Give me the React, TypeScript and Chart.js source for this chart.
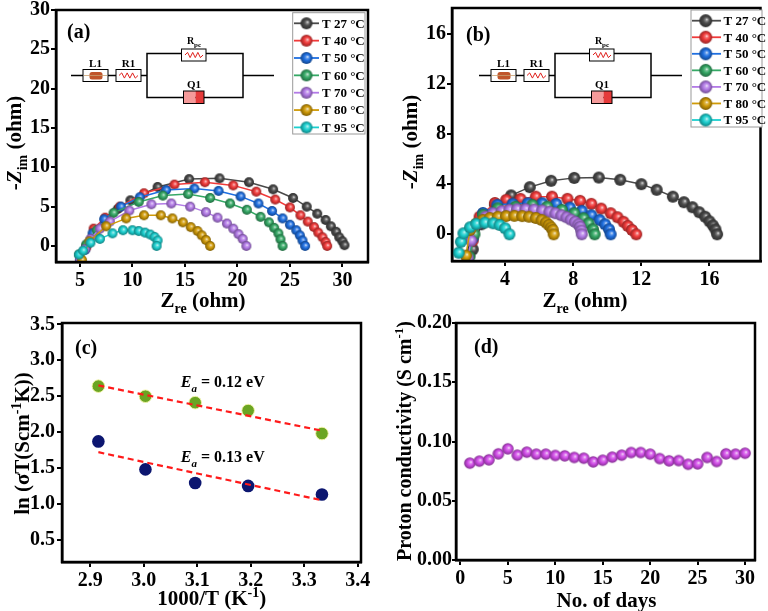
import React, { useEffect, useRef } from "react";
import { Chart, registerables } from "chart.js";
Chart.register(...registerables);

const SERIF = '"Liberation Serif", "Times New Roman", Times, serif';

// ---------- shared legend data ----------
const TEMP_LABELS = ["T 27 °C", "T 40 °C", "T 50 °C", "T 60 °C", "T 70 °C", "T 80 °C", "T 95 °C"];
const TEMP_COLORS = ["#4a4a4a", "#f03a3a", "#1f6fe0", "#35a865", "#b27ae6", "#cf9a08", "#1ccfcf"];

// ---------- panel (a) : Nyquist, Zre / -Zim (ohm) ----------
const A_T27 = [[5.0, -1.9], [5.6, 0.0], [6.5, 2.0], [7.5, 3.3], [8.6, 4.7], [9.8, 5.8], [12.4, 7.5], [15.4, 8.5], [18.3, 8.6], [21.1, 8.1], [23.4, 7.2], [25.3, 6.1], [26.6, 5.0], [27.6, 4.1], [28.4, 3.3], [28.9, 2.5], [29.4, 1.8], [29.7, 1.1], [30.0, 0.6], [30.2, 0.1]];
const A_T40 = [[5.1, -1.9], [5.6, -0.2], [6.3, 2.2], [7.4, 3.6], [8.8, 5.0], [11.1, 6.7], [14.0, 7.8], [16.9, 8.1], [19.6, 7.7], [21.8, 6.9], [23.6, 5.9], [25.0, 4.9], [26.0, 3.9], [26.7, 3.1], [27.3, 2.4], [27.7, 1.7], [28.1, 1.1], [28.4, 0.5], [28.55, 0.0]];
const A_T50 = [[5.0, -2.0], [5.5, -0.5], [6.2, 1.6], [7.3, 3.4], [8.9, 5.0], [10.7, 6.2], [13.2, 7.1], [15.9, 7.3], [18.2, 7.0], [20.3, 6.3], [22.0, 5.4], [23.3, 4.45], [24.3, 3.5], [25.0, 2.7], [25.6, 2.0], [25.95, 1.35], [26.2, 0.7], [26.45, 0.0]];
const A_T60 = [[4.9, -1.1], [5.6, 0.2], [6.6, 2.0], [8.2, 4.2], [10.6, 5.6], [12.9, 6.4], [15.3, 6.6], [17.4, 6.1], [19.3, 5.4], [20.9, 4.6], [22.2, 3.7], [23.0, 3.0], [23.5, 2.3], [23.9, 1.6], [24.1, 0.85], [24.3, 0.0]];
const A_T70 = [[5.0, -1.7], [5.5, -0.4], [6.0, 0.9], [6.9, 2.2], [7.85, 3.1], [9.7, 4.5], [11.8, 5.3], [13.7, 5.4], [15.5, 5.0], [17.0, 4.3], [18.1, 3.6], [19.0, 2.85], [19.6, 2.2], [20.1, 1.5], [20.5, 0.9], [20.85, 0.0]];
const A_T80 = [[5.2, -1.8], [5.9, 0.6], [7.5, 2.5], [9.4, 3.5], [11.1, 3.9], [12.7, 3.9], [13.8, 3.5], [14.8, 3.0], [15.55, 2.4], [16.2, 1.9], [16.6, 1.35], [17.0, 0.75], [17.4, 0.0]];
const A_T95 = [[4.9, -1.1], [5.3, -0.6], [6.0, 0.4], [6.9, 0.9], [8.1, 1.6], [9.1, 2.0], [10.0, 2.0], [10.6, 1.9], [11.2, 1.7], [11.7, 1.45], [12.1, 1.15], [12.4, 0.7], [12.3, 0.0]];
const A_SERIES = [A_T27, A_T40, A_T50, A_T60, A_T70, A_T80, A_T95];
const A_X_TICKS = [5, 10, 15, 20, 25, 30];
const A_Y_TICKS = [0, 5, 10, 15, 20, 25, 30];

// ---------- panel (b) ----------
const B_T27 = [[1.9, -1.7], [2.1, -1.2], [2.6, 0.8], [3.4, 2.35], [4.35, 3.1], [5.45, 3.76], [6.7, 4.27], [8.06, 4.5], [9.5, 4.53], [10.76, 4.35], [12.0, 4.0], [12.9, 3.55], [13.85, 3.0], [14.5, 2.56], [15.0, 2.16], [15.4, 1.76], [15.75, 1.4], [16.0, 1.04], [16.2, 0.72], [16.35, 0.4], [16.45, 0.0]];
const B_T40 = [[1.8, -1.8], [2.1, -0.5], [2.5, 1.4], [3.4, 2.5], [4.06, 2.75], [4.9, 2.83], [5.8, 3.0], [6.75, 3.0], [7.66, 2.83], [8.4, 2.67], [9.06, 2.43], [9.64, 2.05], [10.2, 1.68], [10.6, 1.36], [10.95, 1.0], [11.2, 0.67], [11.45, 0.35], [11.7, 0.0]];
const B_T50 = [[1.8, -1.9], [2.1, -0.3], [2.7, 1.7], [3.54, 2.35], [4.44, 2.43], [5.33, 2.48], [6.18, 2.48], [7.0, 2.43], [7.8, 2.13], [8.5, 1.87], [9.06, 1.52], [9.55, 1.15], [9.87, 0.8], [10.1, 0.4], [10.2, 0.0]];
const B_T60 = [[1.9, -1.8], [2.2, 0.0], [2.7, 1.55], [3.57, 2.08], [4.6, 2.2], [5.6, 2.35], [6.47, 2.2], [7.33, 1.95], [8.06, 1.68], [8.6, 1.28], [8.9, 0.88], [9.16, 0.4], [9.26, 0.0]];
const B_T70 = [[1.8, -1.9], [2.0, -0.5], [2.4, 0.88], [2.85, 1.4], [3.3, 1.68], [3.8, 1.85], [4.25, 1.95], [4.7, 2.0], [5.2, 2.0], [5.7, 1.97], [6.18, 1.9], [6.6, 1.8], [6.95, 1.68], [7.3, 1.52], [7.6, 1.36], [7.85, 1.18], [8.1, 1.0], [8.3, 0.8], [8.4, 0.6], [8.47, 0.3], [8.5, 0.0]];
const B_T80 = [[1.7, -1.7], [1.94, 0.35], [2.3, 0.85], [2.7, 1.15], [3.1, 1.3], [3.57, 1.4], [4.05, 1.45], [4.54, 1.47], [5.0, 1.45], [5.4, 1.4], [5.8, 1.3], [6.14, 1.15], [6.4, 0.95], [6.56, 0.75], [6.7, 0.55], [6.8, 0.35], [6.85, 0.0]];
const B_T95 = [[1.27, -1.47], [1.4, -0.6], [1.55, 0.08], [1.94, 0.56], [2.3, 0.83], [2.8, 0.93], [3.3, 0.88], [3.67, 0.75], [4.0, 0.48], [4.25, 0.0]];
const B_SERIES = [B_T27, B_T40, B_T50, B_T60, B_T70, B_T80, B_T95];
const B_X_TICKS = [4, 8, 12, 16];
const B_Y_TICKS = [0, 4, 8, 12, 16];

// ---------- panel (c) : Arrhenius ----------
const C_X = [2.915, 3.003, 3.096, 3.195, 3.333];
const C_GREEN = [2.64, 2.5, 2.41, 2.3, 1.98];
const C_BLUE = [1.87, 1.48, 1.29, 1.25, 1.13];
const C_FIT_X = [2.915, 3.333];
const C_FIT_GREEN = [2.65, 2.02];
const C_FIT_BLUE = [1.72, 1.05];
const C_X_TICKS = [2.9, 3.0, 3.1, 3.2, 3.3, 3.4];
const C_Y_TICKS = [0.5, 1.0, 1.5, 2.0, 2.5, 3.0, 3.5];

// ---------- panel (d) : stability ----------
const D_DAYS = [1, 2, 3, 4, 5, 6, 7, 8, 9, 10, 11, 12, 13, 14, 15, 16, 17, 18, 19, 20, 21, 22, 23, 24, 25, 26, 27, 28, 29, 30];
const D_COND = [0.0817, 0.0834, 0.0845, 0.0896, 0.0938, 0.0885, 0.091, 0.0893, 0.0893, 0.0882, 0.0879, 0.0865, 0.0859, 0.0828, 0.0842, 0.0868, 0.0885, 0.0907, 0.0907, 0.0893, 0.0856, 0.0837, 0.0839, 0.0808, 0.0811, 0.0865, 0.0831, 0.0896, 0.0893, 0.0901];
const D_X_TICKS = [0, 5, 10, 15, 20, 25, 30];
const D_Y_TICKS = [0, 0.05, 0.1, 0.15, 0.2];

// ---------- helpers ----------
function rgbOf(hex: string) {
  const n = parseInt(hex.slice(1), 16);
  return [(n >> 16) & 255, (n >> 8) & 255, n & 255];
}
function mix(hex: string, f: number) {
  const [r, g, b] = rgbOf(hex);
  const m = (c: number) => Math.max(0, Math.min(255, Math.round(f >= 1 ? c + (255 - c) * (f - 1) : c * f)));
  return `rgb(${m(r)},${m(g)},${m(b)})`;
}
const ballCache: Record<string, HTMLCanvasElement> = {};
function ball(color: string, r: number): HTMLCanvasElement {
  const key = color + r;
  if (ballCache[key]) return ballCache[key];
  const c = document.createElement("canvas");
  const s = Math.ceil(r * 2 + 2);
  c.width = s;
  c.height = s;
  const g = c.getContext("2d")!;
  const cx = s / 2, cy = s / 2;
  const grad = g.createRadialGradient(cx + r * 0.2, cy - r * 0.2, 0, cx, cy, r);
  grad.addColorStop(0, "#ffffff");
  grad.addColorStop(0.2, mix(color, 1.35));
  grad.addColorStop(0.5, color);
  grad.addColorStop(1, mix(color, 0.62));
  g.fillStyle = grad;
  g.beginPath();
  g.arc(cx, cy, r, 0, Math.PI * 2);
  g.fill();
  ballCache[key] = c;
  return c;
}

type Seg = { t: string; it?: boolean; sub?: boolean; sup?: boolean };
function segFont(s: Seg, size: number) {
  const sz = s.sub || s.sup ? Math.round(size * 0.66) : size;
  return `${s.it ? "italic " : ""}bold ${sz}px ${SERIF}`;
}
function drawRich(ctx: CanvasRenderingContext2D, segs: Seg[], x: number, y: number, size: number, align: "center" | "left", rot = false) {
  ctx.save();
  ctx.translate(x, y);
  if (rot) ctx.rotate(-Math.PI / 2);
  ctx.textBaseline = "alphabetic";
  ctx.textAlign = "left";
  ctx.fillStyle = "#000";
  let w = 0;
  for (const s of segs) {
    ctx.font = segFont(s, size);
    w += ctx.measureText(s.t).width;
  }
  let cx = align === "center" ? -w / 2 : 0;
  const base = size * 0.34;
  for (const s of segs) {
    ctx.font = segFont(s, size);
    const dy = s.sub ? size * 0.3 : s.sup ? -size * 0.38 : 0;
    ctx.fillText(s.t, cx, base + dy);
    cx += ctx.measureText(s.t).width;
  }
  ctx.restore();
}

function frame(chart: any) {
  const { left, top, right, bottom } = chart.chartArea;
  const ctx = chart.ctx as CanvasRenderingContext2D;
  ctx.save();
  ctx.strokeStyle = "#000";
  ctx.lineWidth = 2.5;
  ctx.strokeRect(left, top, right - left, bottom - top);
  ctx.restore();
}

function zigzag(ctx: CanvasRenderingContext2D, x0: number, x1: number, y: number) {
  ctx.save();
  ctx.strokeStyle = "#e0201c";
  ctx.lineWidth = 1;
  ctx.beginPath();
  const n = 7;
  ctx.moveTo(x0, y);
  for (let i = 1; i <= n; i++) {
    const xx = x0 + ((x1 - x0) * i) / n;
    const yy = i === n ? y : y + (i % 2 ? -2.6 : 2.6);
    ctx.lineTo(xx, yy);
  }
  ctx.stroke();
  ctx.restore();
}

function drawCircuit(ctx: CanvasRenderingContext2D, dx: number) {
  const y = 75.5;
  ctx.save();
  ctx.strokeStyle = "#000";
  ctx.lineWidth = 1.5;
  const seg = (x0: number, y0: number, x1: number, y1: number) => {
    ctx.beginPath();
    ctx.moveTo(x0 + dx, y0);
    ctx.lineTo(x1 + dx, y1);
    ctx.stroke();
  };
  seg(71, y, 147, y);
  seg(243, y, 274, y);
  ctx.strokeRect(147 + dx, 53.5, 96, 44);
  const box = (x: number, yy: number, w: number, h: number) => {
    ctx.fillStyle = "#fff";
    ctx.fillRect(x + dx, yy, w, h);
    ctx.lineWidth = 1;
    ctx.strokeStyle = "#000";
    ctx.strokeRect(x + dx, yy, w, h);
  };
  // L1
  box(83, 69.5, 25, 12);
  ctx.fillStyle = "#c0552b";
  ctx.beginPath();
  (ctx as any).roundRect(89.5 + dx, 72, 13, 7.5, 2.5);
  ctx.fill();
  ctx.strokeStyle = "#c8a070";
  ctx.lineWidth = 0.8;
  ctx.beginPath();
  ctx.moveTo(84 + dx, y);
  ctx.lineTo(107 + dx, y);
  ctx.stroke();
  // R1
  box(116, 69.5, 25, 12);
  zigzag(ctx, 119 + dx, 138 + dx, y);
  // Rpc
  box(181.5, 49, 24.5, 12);
  zigzag(ctx, 185 + dx, 203 + dx, 55);
  // Q1
  ctx.fillStyle = "#f59a9a";
  ctx.fillRect(183.5 + dx, 91, 12, 12.5);
  ctx.fillStyle = "#e53a3a";
  ctx.fillRect(195.5 + dx, 91, 8.5, 12.5);
  ctx.lineWidth = 1;
  ctx.strokeStyle = "#000";
  ctx.strokeRect(183.5 + dx, 91, 20.5, 12.5);
  ctx.restore();
  drawRich(ctx, [{ t: "L1" }], 95.5 + dx, 63.5, 11, "center");
  drawRich(ctx, [{ t: "R1" }], 128.5 + dx, 63.5, 11, "center");
  drawRich(ctx, [{ t: "R" }, { t: "pc", sub: true }], 194 + dx, 40.5, 10, "center");
  drawRich(ctx, [{ t: "Q1" }], 194 + dx, 84, 11, "center");
}

function drawTempLegend(ctx: CanvasRenderingContext2D, o: { x: number; y: number; w: number; h: number; l0: number; l1: number; bx: number; tx: number; fy: number; step: number; r: number; size: number }) {
  ctx.save();
  ctx.fillStyle = "#fff";
  ctx.fillRect(o.x, o.y, o.w, o.h);
  ctx.strokeStyle = "#9a9a9a";
  ctx.lineWidth = 1;
  ctx.strokeRect(o.x, o.y, o.w, o.h);
  TEMP_LABELS.forEach((lab, i) => {
    const yy = o.fy + i * o.step;
    ctx.strokeStyle = TEMP_COLORS[i];
    ctx.lineWidth = 1.8;
    ctx.beginPath();
    ctx.moveTo(o.l0, yy);
    ctx.lineTo(o.l1, yy);
    ctx.stroke();
    const img = ball(TEMP_COLORS[i], o.r);
    ctx.drawImage(img, o.bx - img.width / 2, yy - img.height / 2);
    drawRich(ctx, [{ t: lab }], o.tx, yy, o.size, "left");
  });
  ctx.restore();
}

function linAxis(o: { min: number; max: number; ticks: number[]; fmt: (v: number) => string; size: number; horizontal: boolean; pad: number; tl?: number }) {
  return {
    type: "linear",
    position: o.horizontal ? "bottom" : "left",
    min: o.min,
    max: o.max,
    afterBuildTicks: (s: any) => {
      s.ticks = o.ticks.map((v) => ({ value: v }));
    },
    afterFit: (s: any) => {
      if (o.horizontal) s.height = o.size;
      else s.width = o.size;
      s.paddingLeft = 0;
      s.paddingRight = 0;
      s.paddingTop = 0;
      s.paddingBottom = 0;
    },
    ticks: {
      color: "#000",
      font: { family: SERIF, size: 20, weight: "bold" },
      padding: o.pad,
      autoSkip: false,
      maxRotation: 0,
      minRotation: 0,
      callback: (v: any) => o.fmt(Number(v)),
    },
    grid: { drawOnChartArea: false, drawTicks: true, tickLength: o.tl ?? 5, color: "#000", lineWidth: 2 },
    border: { display: true, color: "#000", width: 2.5 },
  };
}

const baseOptions = (padding: any) => ({
  responsive: false,
  animation: false,
  events: [],
  layout: { padding },
  plugins: { legend: { display: false }, tooltip: { enabled: false }, title: { display: false } },
});

function nyquistDatasets(series: number[][][], r: number) {
  return series.map((pts, i) => ({
    label: TEMP_LABELS[i],
    data: pts.map(([x, y]) => ({ x, y })),
    showLine: true,
    borderColor: TEMP_COLORS[i],
    borderWidth: 1.5,
    pointStyle: ball(TEMP_COLORS[i], r),
    pointRadius: r,
    order: series.length - 1 - i,
  }));
}

function makeA(canvas: HTMLCanvasElement) {
  return new Chart(canvas, {
    type: "scatter",
    data: { datasets: nyquistDatasets(A_SERIES, 5) as any },
    options: {
      ...(baseOptions({ left: 0, right: 16, top: 10, bottom: 0 }) as any),
      scales: {
        x: linAxis({ min: 2.72, max: 32.44, ticks: A_X_TICKS, fmt: (v) => String(v), size: 58, horizontal: true, pad: 2 }),
        y: linAxis({ min: -2.04, max: 30, ticks: A_Y_TICKS, fmt: (v) => String(v), size: 56, horizontal: false, pad: 1 }),
      } as any,
    },
    plugins: [
      {
        id: "decoA",
        afterDraw(chart: any) {
          const ctx = chart.ctx;
          frame(chart);
          drawRich(ctx, [{ t: "-" }, { t: "Z", it: true }, { t: "im", sub: true }, { t: " (ohm)" }], 13.5, 143, 21, "center", true);
          drawRich(ctx, [{ t: "Z" }, { t: "re", sub: true }, { t: " (ohm)" }], 203, 300, 21, "center");
          drawRich(ctx, [{ t: "(a)" }], 67, 31, 20, "left");
          drawCircuit(ctx, 0);
          drawTempLegend(ctx, { x: 292.7, y: 12.7, w: 72.3, h: 121.3, l0: 294, l1: 319, bx: 306.5, tx: 322, fy: 23.3, step: 17.35, r: 6, size: 13 });
        },
      },
    ],
  } as any);
}

function makeB(canvas: HTMLCanvasElement) {
  return new Chart(canvas, {
    type: "scatter",
    data: { datasets: nyquistDatasets(B_SERIES, 6) as any },
    options: {
      ...(baseOptions({ left: 0, right: 2, top: 8, bottom: 0 }) as any),
      scales: {
        x: linAxis({ min: 0.88, max: 19, ticks: B_X_TICKS, fmt: (v) => String(v), size: 59, horizontal: true, pad: 2 }),
        y: linAxis({ min: -2.13, max: 18.05, ticks: B_Y_TICKS, fmt: (v) => String(v), size: 68, horizontal: false, pad: 1 }),
      } as any,
    },
    plugins: [
      {
        id: "decoB",
        afterDraw(chart: any) {
          const ctx = chart.ctx;
          frame(chart);
          drawRich(ctx, [{ t: "-" }, { t: "Z", it: true }, { t: "im", sub: true }, { t: " (ohm)" }], 26, 142, 21, "center", true);
          drawRich(ctx, [{ t: "Z" }, { t: "re", sub: true }, { t: " (ohm)" }], 201, 300, 21, "center");
          drawRich(ctx, [{ t: "(b)" }], 82, 34, 20, "left");
          drawCircuit(ctx, 24);
          drawTempLegend(ctx, { x: 307, y: 10, w: 71, h: 117, l0: 308, l1: 337, bx: 321.7, tx: 339.5, fy: 20.7, step: 16.55, r: 6.5, size: 13 });
        },
      },
    ],
  } as any);
}

function makeC(canvas: HTMLCanvasElement) {
  const pts = (ys: number[], xs: number[]) => xs.map((x, i) => ({ x, y: ys[i] }));
  return new Chart(canvas, {
    type: "scatter",
    data: {
      datasets: [
        { label: "fit1", data: pts(C_FIT_GREEN, C_FIT_X), showLine: true, borderColor: "#ff1a1a", borderDash: [6, 4], borderWidth: 2.2, pointRadius: 0, order: 0 },
        { label: "fit2", data: pts(C_FIT_BLUE, C_FIT_X), showLine: true, borderColor: "#ff1a1a", borderDash: [6, 4], borderWidth: 2.2, pointRadius: 0, order: 1 },
        { label: "g", data: pts(C_GREEN, C_X), pointRadius: 6.3, backgroundColor: "#6ba523", borderColor: "rgba(245,245,170,0.9)", borderWidth: 1, order: 2 },
        { label: "b", data: pts(C_BLUE, C_X), pointRadius: 6.3, backgroundColor: "#0c1670", borderColor: "#0c1670", borderWidth: 0, order: 3 },
      ],
    },
    options: {
      ...(baseOptions({ left: 0, right: 23, top: 13, bottom: 0 }) as any),
      scales: {
        x: linAxis({ min: 2.847, max: 3.406, ticks: C_X_TICKS, fmt: (v) => v.toFixed(1), size: 49, horizontal: true, pad: 2 }),
        y: linAxis({ min: 0.19, max: 3.52, ticks: C_Y_TICKS, fmt: (v) => v.toFixed(1), size: 62, horizontal: false, pad: 2 }),
      } as any,
    },
    plugins: [
      {
        id: "decoC",
        afterDraw(chart: any) {
          const ctx = chart.ctx;
          frame(chart);
          const sx = chart.scales.x, sy = chart.scales.y;
          drawRich(ctx, [{ t: "E", it: true }, { t: "a", it: true, sub: true }, { t: " = 0.12 eV" }], sx.getPixelForValue(3.069), sy.getPixelForValue(2.705), 16, "left");
          drawRich(ctx, [{ t: "E", it: true }, { t: "a", it: true, sub: true }, { t: " = 0.13 eV" }], sx.getPixelForValue(3.069), sy.getPixelForValue(1.66), 16, "left");
          drawRich(ctx, [{ t: "ln (σT(Scm" }, { t: "-1", sup: true }, { t: "K))" }], 21.5, 133.5, 21, "center", true);
          drawRich(ctx, [{ t: "1000/T (K" }, { t: "-1", sup: true }, { t: ")" }], 211.7, 288, 21, "center");
          drawRich(ctx, [{ t: "(c)" }], 75, 37.5, 20, "left");
        },
      },
    ],
  } as any);
}

function makeD(canvas: HTMLCanvasElement) {
  return new Chart(canvas, {
    type: "scatter",
    data: {
      datasets: [
        {
          label: "d",
          data: D_DAYS.map((x, i) => ({ x, y: D_COND[i] })),
          pointStyle: ball("#d04ce6", 5.8),
          pointRadius: 5.8,
        },
      ],
    },
    options: {
      ...(baseOptions({ left: 0, right: 13, top: 13, bottom: 0 }) as any),
      scales: {
        x: linAxis({ min: -0.46, max: 31.05, ticks: D_X_TICKS, fmt: (v) => String(v), size: 51, horizontal: true, pad: 2 }),
        y: linAxis({ min: 0, max: 0.2, ticks: D_Y_TICKS, fmt: (v) => v.toFixed(2), size: 72, horizontal: false, pad: 0, tl: 4 }),
      } as any,
    },
    plugins: [
      {
        id: "decoD",
        afterDraw(chart: any) {
          const ctx = chart.ctx;
          frame(chart);
          drawRich(ctx, [{ t: "Proton conductivity (S cm" }, { t: "-1", sup: true }, { t: ")" }], 20, 131, 20, "center", true);
          drawRich(ctx, [{ t: "No. of days" }], 222.5, 289.5, 21, "center");
          drawRich(ctx, [{ t: "(d)" }], 90, 36.5, 20, "left");
        },
      },
    ],
  } as any);
}

function Panel(props: { left: number; top: number; width: number; height: number; make: (c: HTMLCanvasElement) => Chart }) {
  const ref = useRef<HTMLCanvasElement>(null);
  useEffect(() => {
    const chart = props.make(ref.current!);
    return () => chart.destroy();
  }, []);
  return (
    <canvas
      ref={ref}
      width={props.width}
      height={props.height}
      style={{ position: "absolute", left: props.left, top: props.top, width: props.width, height: props.height }}
    />
  );
}

export default function App() {
  return (
    <div style={{ position: "absolute", left: 0, top: 0, width: 768, height: 611, background: "#fff", overflow: "hidden" }}>
      <Panel left={0} top={0} width={384} height={320} make={makeA} />
      <Panel left={384} top={0} width={384} height={320} make={makeB} />
      <Panel left={0} top={310} width={384} height={301} make={makeC} />
      <Panel left={384} top={310} width={384} height={301} make={makeD} />
    </div>
  );
}
